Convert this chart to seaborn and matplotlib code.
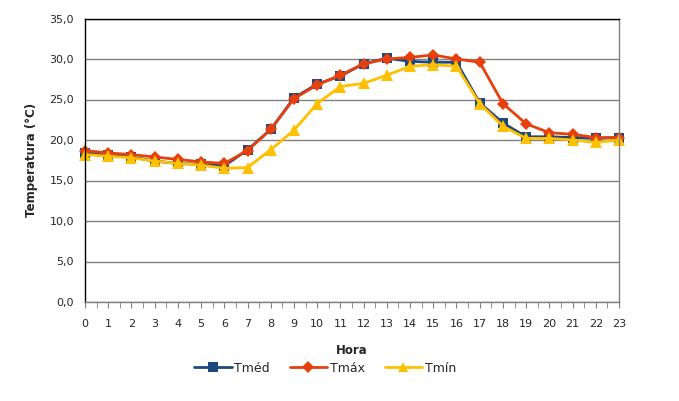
import matplotlib
matplotlib.use("Agg")
import matplotlib.pyplot as plt
import seaborn as sns
import pandas as pd
import numpy as np
from matplotlib.ticker import FuncFormatter, MultipleLocator

hours = list(range(24))
tmed = [18.4, 18.1, 17.9, 17.4, 17.1, 17.0, 16.8, 18.8, 21.3, 25.2, 26.9, 27.9,
        29.4, 30.1, 29.7, 29.6, 29.6, 24.6, 22.1, 20.4, 20.4, 20.3, 20.2, 20.3]
tmax = [18.7, 18.4, 18.2, 17.9, 17.6, 17.3, 17.1, 18.7, 21.3, 25.1, 26.8, 28.0,
        29.4, 30.0, 30.2, 30.5, 30.0, 29.6, 24.5, 22.0, 20.9, 20.7, 20.3, 20.3]
tmin = [18.2, 18.0, 17.8, 17.4, 17.1, 16.9, 16.5, 16.6, 18.8, 21.2, 24.5, 26.6,
        27.0, 28.0, 29.1, 29.3, 29.1, 24.5, 21.7, 20.2, 20.2, 20.0, 19.7, 20.0]
series_names = ["Tméd", "Tmáx", "Tmín"]

df = pd.DataFrame({"Hora": hours * 3,
                   "T": tmed + tmax + tmin,
                   "Serie": [series_names[0]] * 24 + [series_names[1]] * 24 + [series_names[2]] * 24})

sns.set_style("white")
plt.rcParams['font.family'] = ['DejaVu Sans']

fig = plt.figure(figsize=(6.79, 4.01), dpi=100)
ax = fig.add_axes([85 / 679, 1 - 302 / 401, (619 - 85) / 679, (302 - 18.5) / 401])

palette = {"Tméd": "#1F497D", "Tmáx": "#E8400C", "Tmín": "#FFC000"}
markers = {"Tméd": "s", "Tmáx": "D", "Tmín": "^"}
sizes = {"Tméd": 7.5, "Tmáx": 6.5, "Tmín": 8}

sns.lineplot(data=df, x="Hora", y="T", hue="Serie", style="Serie",
             palette=palette, markers=markers, dashes=False, ax=ax,
             linewidth=2, legend=False)
for line, name in zip(ax.lines, series_names):
    line.set_markersize(sizes[name])
    line.set_markeredgewidth(0)
    line.set_clip_on(False)

ax.set_xlim(0, 23)
ax.set_ylim(0, 35)
ax.yaxis.set_major_locator(MultipleLocator(5))
ax.yaxis.set_major_formatter(FuncFormatter(lambda v, p: f"{v:.1f}".replace(".", ",")))
ax.set_xticks(hours)
ax.set_xticks(np.arange(0.5, 23, 1), minor=True)
ax.grid(axis="y", color="#808080", linewidth=1)
ax.set_axisbelow(True)

for s in ["left", "top"]:
    ax.spines[s].set_color("black")
    ax.spines[s].set_linewidth(1)
for s in ["right", "bottom"]:
    ax.spines[s].set_color("#808080")
    ax.spines[s].set_linewidth(1)

ax.tick_params(axis="x", which="both", direction="out", length=4, color="#808080",
               bottom=True, labelsize=8, pad=8)
ax.tick_params(axis="y", length=0, labelsize=8, pad=8)
ax.set_xlabel("Hora", fontsize=8.5, fontweight="bold", labelpad=11)
ax.set_ylabel("Temperatura (°C)", fontsize=8.5, fontweight="bold", labelpad=8)

handles = [plt.Line2D([], [], color=palette[n], marker=markers[n], linewidth=2,
                      markersize=sizes[n] * 0.9, markeredgewidth=0) for n in series_names]
fig.legend(handles, series_names, loc="center", bbox_to_anchor=(325 / 679, 1 - 368 / 401),
           ncol=3, frameon=False, fontsize=9, handlelength=3, columnspacing=1.6,
           handletextpad=0.2)

fig.savefig("out.png", dpi=100)
